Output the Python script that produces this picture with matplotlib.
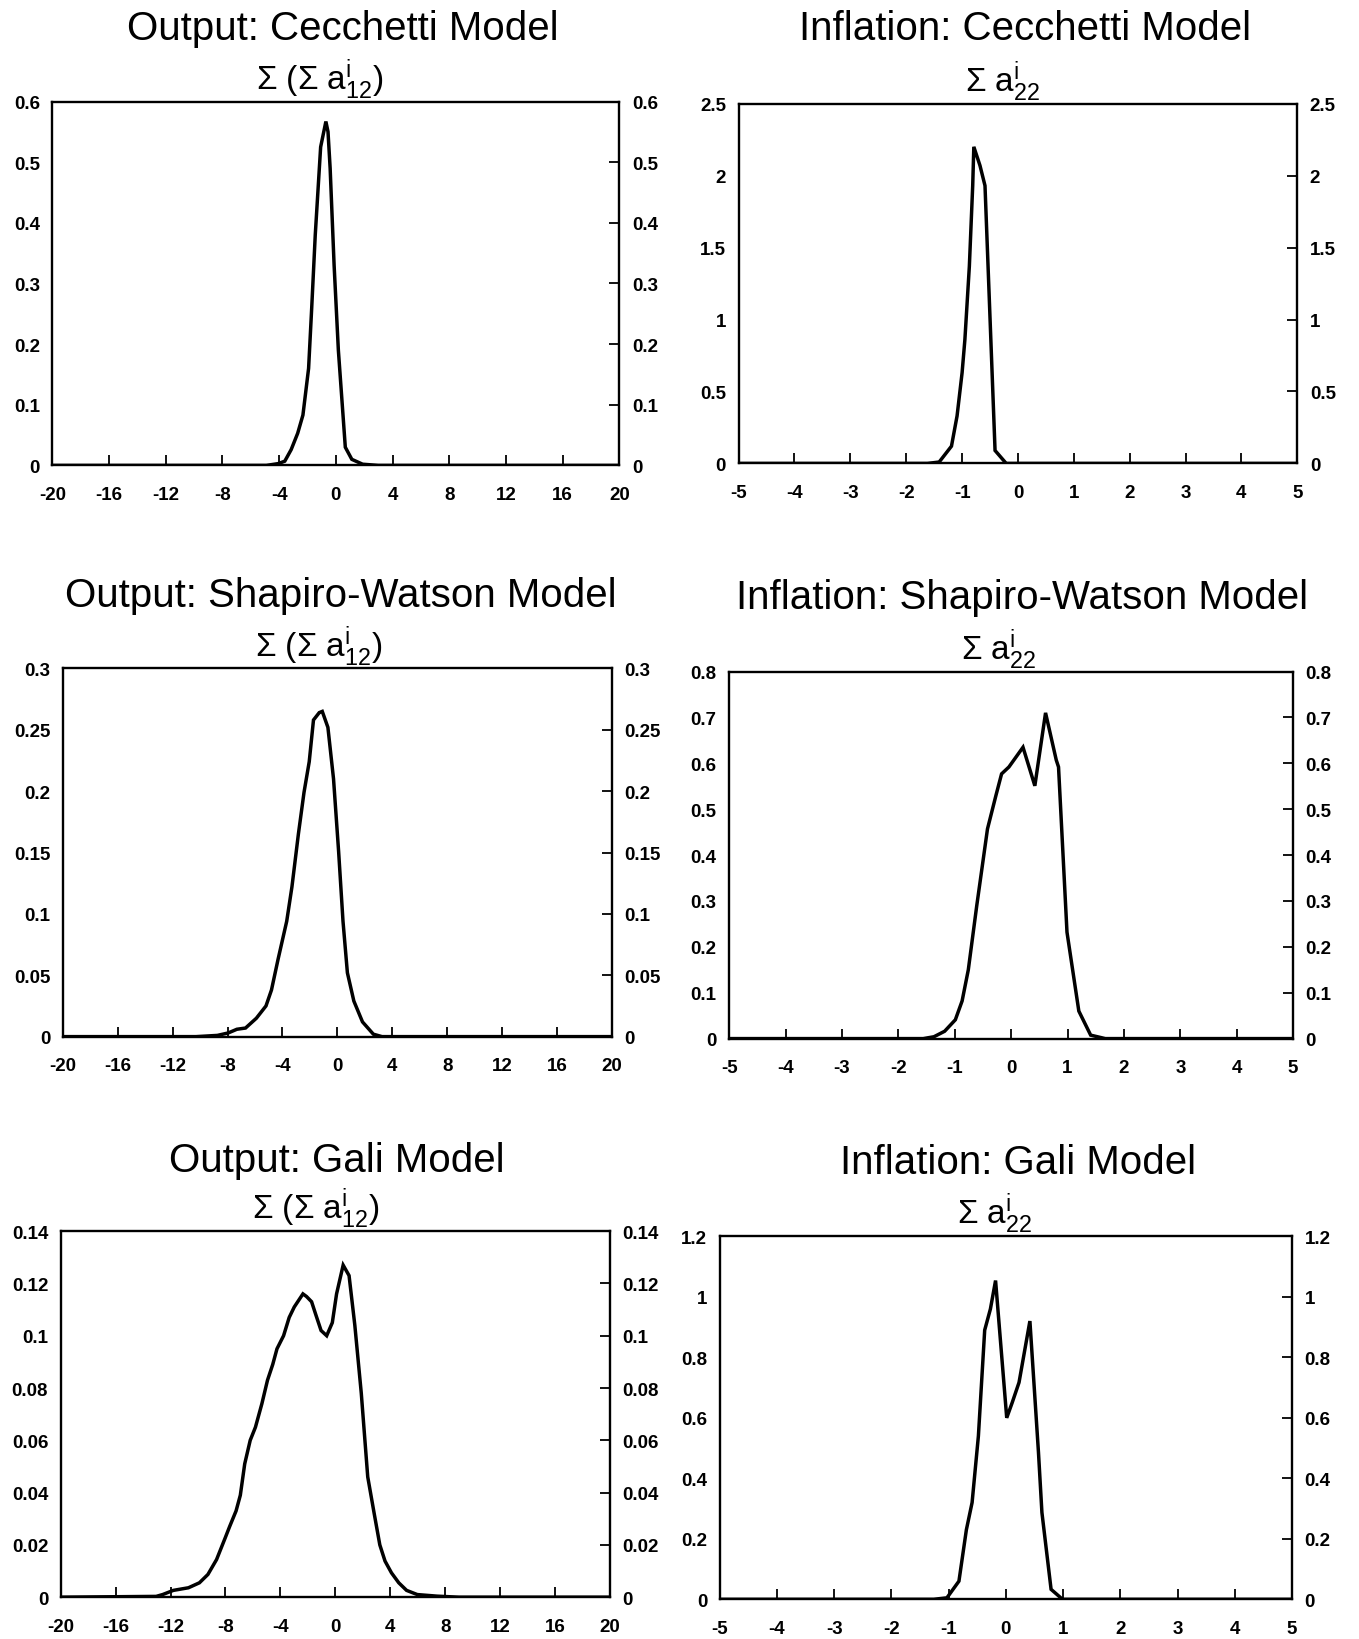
import matplotlib
matplotlib.use("Agg")
import matplotlib.pyplot as plt
from matplotlib.ticker import FormatStrFormatter, MultipleLocator

plt.rcParams["font.family"] = ["Liberation Sans", "DejaVu Sans"]
plt.rcParams["mathtext.fontset"] = "custom"
plt.rcParams["mathtext.rm"] = "Liberation Sans"
plt.rcParams["mathtext.it"] = "Liberation Sans"

# Output: Cecchetti
x_out_cec = [-20, -4.9, -4.06, -3.6, -3.15, -2.69, -2.32, -1.92, -1.7, -1.45, -1.07, -0.7,
             -0.55, -0.4, -0.12, 0.18, 0.67, 1.13, 1.89, 3, 20]
y_out_cec = [0, 0, 0.003, 0.007, 0.026, 0.053, 0.083, 0.16, 0.26, 0.38, 0.525, 0.567,
             0.55, 0.49, 0.33, 0.19, 0.03, 0.01, 0.002, 0, 0]

# Inflation: Cecchetti
x_inf_cec = [-5, -1.62, -1.41, -1.19, -1.09, -1.0, -0.95, -0.87, -0.81, -0.79, -0.68, -0.59,
             -0.41, -0.21, 5]
y_inf_cec = [0, 0, 0.01, 0.12, 0.33, 0.63, 0.86, 1.37, 1.93, 2.2, 2.07, 1.93,
             0.09, 0, 0]

# Output: Shapiro-Watson
x_out_sw = [-20, -10.3, -8.74, -7.95, -7.32, -6.69, -5.9, -5.2, -4.8, -4.32, -3.69, -3.31,
            -2.84, -2.43, -2.05, -1.74, -1.32, -1.1, -0.69, -0.28, 0.09, 0.41, 0.73, 1.2,
            1.83, 2.62, 3.25, 20]
y_out_sw = [0, 0, 0.001, 0.003, 0.006, 0.007, 0.015, 0.025, 0.038, 0.063, 0.094, 0.122,
            0.165, 0.199, 0.224, 0.258, 0.264, 0.265, 0.252, 0.21, 0.151, 0.094, 0.052, 0.029,
            0.012, 0.002, 0, 0]

# Inflation: Shapiro-Watson
x_inf_sw = [-5, -1.56, -1.37, -1.18, -0.99, -0.87, -0.76, -0.61, -0.42, -0.27, -0.17, -0.04,
            0.21, 0.42, 0.61, 0.8, 0.84, 0.99, 1.2, 1.41, 1.67, 5]
y_inf_sw = [0, 0, 0.004, 0.016, 0.041, 0.082, 0.15, 0.29, 0.457, 0.53, 0.577, 0.592,
            0.635, 0.551, 0.71, 0.607, 0.592, 0.232, 0.06, 0.0075, 0, 0]

# Output: Gali
x_out_gali = [-20, -13.05, -12.58, -11.8, -10.7, -9.9, -9.28, -8.65, -8.02, -7.7, -7.23, -6.92,
              -6.6, -6.2, -5.82, -5.35, -4.94, -4.56, -4.25, -3.77, -3.36, -2.99, -2.36, -2.1,
              -1.73, -1.42, -1.04, -0.63, -0.22, 0.09, 0.57, 1.0, 1.42, 1.89, 2.36, 2.83,
              3.24, 3.62, 4.09, 4.62, 5.19, 5.97, 7.4, 9, 20]
y_out_gali = [0, 0.0003, 0.001, 0.0026, 0.0036, 0.0055, 0.0087, 0.0144, 0.0227, 0.027, 0.033, 0.039,
              0.051, 0.06, 0.065, 0.074, 0.083, 0.089, 0.095, 0.1, 0.107, 0.111, 0.116, 0.115,
              0.113, 0.108, 0.102, 0.1, 0.105, 0.116, 0.127, 0.123, 0.104, 0.078, 0.046, 0.032,
              0.02, 0.0138, 0.0093, 0.0055, 0.0026, 0.001, 0.0004, 0, 0]

# Inflation: Gali
x_inf_gali = [-5, -1.26, -1.03, -0.82, -0.69, -0.59, -0.48, -0.37, -0.27, -0.18, 0.015, 0.11,
              0.23, 0.42, 0.57, 0.63, 0.79, 0.99, 5]
y_inf_gali = [0, 0, 0.005, 0.06, 0.23, 0.32, 0.54, 0.89, 0.96, 1.054, 0.6, 0.65,
              0.717, 0.92, 0.485, 0.287, 0.033, 0, 0]

titles = ["Output: Cecchetti Model", "Inflation: Cecchetti Model",
          "Output: Shapiro-Watson Model", "Inflation: Shapiro-Watson Model",
          "Output: Gali Model", "Inflation: Gali Model"]
sub_out = r"$\mathrm{\Sigma\ (\Sigma\ a^{i}_{12})}$"
sub_inf = r"$\mathrm{\Sigma\ a^{i}_{22}}$"

fig = plt.figure(figsize=(13.59, 16.40), dpi=100)

# [left, bottom, width, height] in figure fraction
boxes = [
    [0.0385, 0.7156, 0.4172, 0.2219],
    [0.5435, 0.7168, 0.4111, 0.2194],
    [0.0462, 0.3673, 0.4041, 0.2245],
    [0.5366, 0.3661, 0.4149, 0.2238],
    [0.0447, 0.0255, 0.4041, 0.2232],
    [0.5296, 0.0242, 0.4211, 0.2213],
]
title_pos = [(0.2525, 0.9821), (0.7544, 0.9821), (0.251, 0.6365),
             (0.752, 0.6352), (0.248, 0.2921), (0.749, 0.2908)]
sub_pos = [(0.2355, 0.9455), (0.7375, 0.9442), (0.235, 0.5998),
           (0.735, 0.5979), (0.2325, 0.2567), (0.732, 0.2535)]

data = [(x_out_cec, y_out_cec, 0.6, 0.1), (x_inf_cec, y_inf_cec, 2.5, 0.5),
        (x_out_sw, y_out_sw, 0.3, 0.05), (x_inf_sw, y_inf_sw, 0.8, 0.1),
        (x_out_gali, y_out_gali, 0.14, 0.02), (x_inf_gali, y_inf_gali, 1.2, 0.2)]

for i, (xs, ys, ymax, ystep) in enumerate(data):
    ax = fig.add_axes(boxes[i])
    ax.plot(xs, ys, color="black", linewidth=2.5, solid_joinstyle="miter")
    if i % 2 == 0:
        ax.set_xlim(-20, 20)
        ax.xaxis.set_major_locator(MultipleLocator(4))
    else:
        ax.set_xlim(-5, 5)
        ax.xaxis.set_major_locator(MultipleLocator(1))
    ax.set_ylim(0, ymax)
    ax.yaxis.set_major_locator(MultipleLocator(ystep))
    ax.yaxis.set_major_formatter(FormatStrFormatter("%g"))
    ax.xaxis.set_major_formatter(FormatStrFormatter("%g"))
    for s in ax.spines.values():
        s.set_linewidth(1.7)
    ax.tick_params(axis="x", direction="in", length=7, width=1.3, pad=15,
                   labelsize=13.5, top=False)
    ax.tick_params(axis="y", direction="in", length=7, width=1.3, left=False,
                   right=True, labelleft=True, labelright=True, labelsize=13.5, pad=9)
    for lab in ax.get_xticklabels() + ax.get_yticklabels():
        lab.set_fontweight("bold")
    fig.text(title_pos[i][0], title_pos[i][1], titles[i], fontsize=29,
             ha="center", va="center")
    fig.text(sub_pos[i][0], sub_pos[i][1], sub_out if i % 2 == 0 else sub_inf,
             fontsize=24, ha="center", va="baseline")

plt.savefig("out.png", dpi=100)
plt.close()
